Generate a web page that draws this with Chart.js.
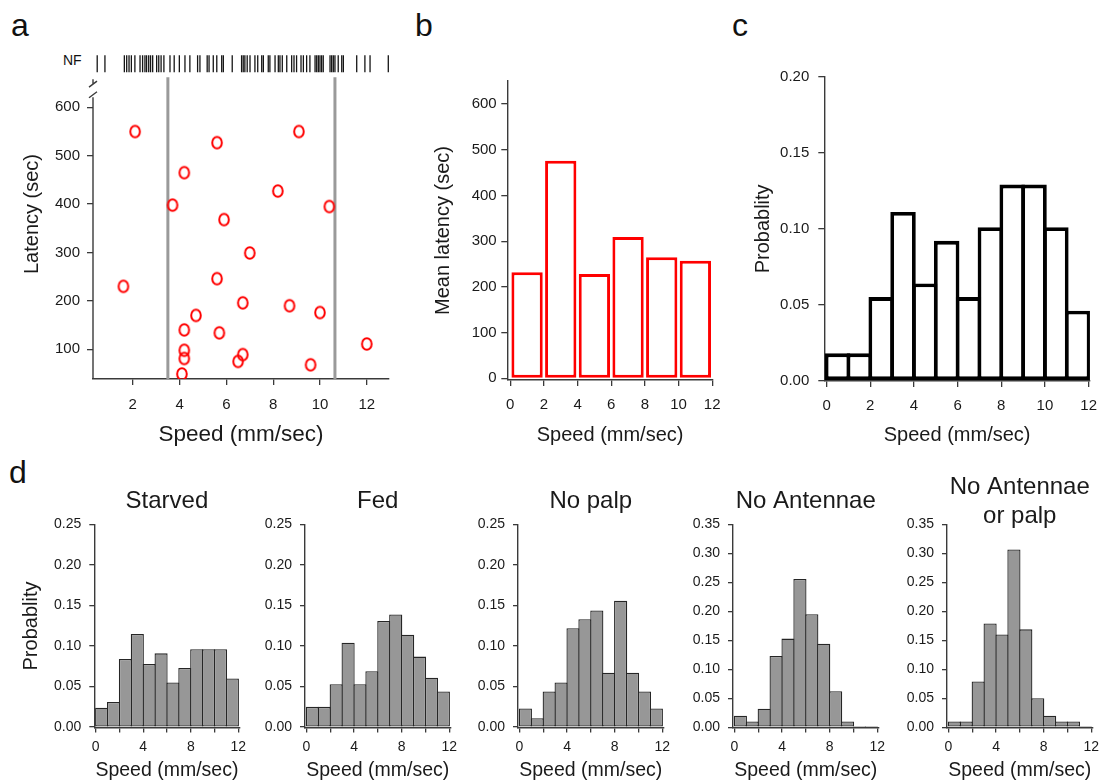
<!DOCTYPE html>
<html>
<head>
<meta charset="utf-8">
<script src="https://cdn.jsdelivr.net/npm/chart.js@4.4.1/dist/chart.umd.min.js"></script>
<style>
  body { margin: 0; background: #fff; }
  #fig { position: relative; width: 1107px; height: 782px; overflow: hidden;
         font-family: 'Liberation Sans', Arial, sans-serif; color: #111; }
  #fig canvas { position: absolute; }
  .lbl { position: absolute; font-size: 32px; line-height: 1; }
  .nf { position: absolute; font-size: 14px; line-height: 1; }
</style>
</head>
<body>
<div id="fig">
  <div class="lbl" style="left:11px;top:9px">a</div>
  <div class="lbl" style="left:415px;top:9px">b</div>
  <div class="lbl" style="left:732px;top:9px">c</div>
  <div class="lbl" style="left:9px;top:456px">d</div>
  <div class="nf" style="left:63px;top:53px">NF</div>
  <canvas id="cA" width="400" height="450" style="left:0;top:0"></canvas>
  <canvas id="cB" width="330" height="450" style="left:400px;top:0"></canvas>
  <canvas id="cC" width="377" height="450" style="left:730px;top:0"></canvas>
  <canvas id="d0" width="252" height="312" style="left:0;top:470px"></canvas>
  <canvas id="d1" width="252" height="312" style="left:211px;top:470px"></canvas>
  <canvas id="d2" width="252" height="312" style="left:424px;top:470px"></canvas>
  <canvas id="d3" width="252" height="312" style="left:639px;top:470px"></canvas>
  <canvas id="d4" width="252" height="312" style="left:853px;top:470px"></canvas>
</div>
<script>
// ---- data ----
// panel a: individual flies (speed vs latency)
const speedA   = [2.1, 1.6, 5.6, 4.2, 3.7, 5.9, 7.0, 5.6, 6.7, 4.7, 4.2, 5.7, 4.2, 4.2, 4.1, 6.5, 6.7, 8.2, 9.1, 10.4, 8.7, 10.0, 12.0, 9.6];
const latencyA = [550, 230, 527, 465, 398, 368, 299, 246, 196, 170, 140, 134, 98, 81, 49, 75, 89, 427, 550, 395, 190, 176, 111, 68];
const boundsA  = [3.5, 10.64];
// flies that never fed (NF): speeds only
const nfSpeeds = [0.48, 0.81, 1.64, 1.74, 1.84, 1.94, 2.09, 2.31, 2.42, 2.52, 2.59, 2.68, 2.76, 2.85,
  3.02, 3.11, 3.21, 3.33, 3.59, 3.77, 3.99, 4.23, 4.44, 4.77, 4.87, 5.18, 5.26, 5.44, 5.59, 5.80, 5.87,
  6.25, 6.65, 6.72, 6.79, 6.89, 7.01, 7.22, 7.34, 7.51, 7.58, 7.79, 7.86, 8.08, 8.22, 8.29, 8.39, 8.58,
  8.79, 8.89, 9.00, 9.19, 9.29, 9.43, 9.57, 9.79, 9.86, 9.93, 10.00, 10.07, 10.14, 10.43, 10.50, 10.57,
  10.64, 10.78, 10.93, 11.00, 11.57, 11.92, 12.14, 12.92];
const nfRow = 690;
const ticksAX = [2, 4, 6, 8, 10, 12];
const ticksAY = [100, 200, 300, 400, 500, 600];

// panel b: mean latency per 2 mm/sec bin
const binsB = [1, 3, 5, 7, 9, 11];
const meanLatencyB = [232, 476, 228, 309, 265, 257];
const ticksBX = [0, 2, 4, 6, 8, 10, 12];
const ticksBY = [0, 100, 200, 300, 400, 500, 600];

// panel c: speed histogram, 1 mm/sec bins
const bins1 = [0.5, 1.5, 2.5, 3.5, 4.5, 5.5, 6.5, 7.5, 8.5, 9.5, 10.5, 11.5];
const probC = [0.018, 0.018, 0.055, 0.111, 0.064, 0.092, 0.055, 0.101, 0.129, 0.129, 0.101, 0.046];
const ticksCY = [0, 0.05, 0.10, 0.15, 0.20];

// panel d: conditions
const starved   = [0.024, 0.031, 0.084, 0.115, 0.078, 0.091, 0.055, 0.073, 0.096, 0.096, 0.096, 0.060];
const fed       = [0.025, 0.025, 0.053, 0.104, 0.053, 0.069, 0.131, 0.139, 0.114, 0.087, 0.061, 0.044];
const noPalp    = [0.023, 0.011, 0.044, 0.055, 0.122, 0.133, 0.144, 0.067, 0.156, 0.067, 0.044, 0.023];
const noAnt     = [0.020, 0.010, 0.032, 0.123, 0.153, 0.256, 0.195, 0.144, 0.062, 0.010, 0.002, 0.002];
const noAntPalp = [0.010, 0.010, 0.079, 0.179, 0.160, 0.307, 0.169, 0.050, 0.020, 0.010, 0.010, 0.002];
const ticksDX = [0, 2, 4, 6, 8, 10, 12];
const labelsDX = [0, 4, 8, 12];
const ticksD25 = [0, 0.05, 0.10, 0.15, 0.20, 0.25];
const ticksD35 = [0, 0.05, 0.10, 0.15, 0.20, 0.25, 0.30, 0.35];

// ---- style ----
const AXIS = '#3a3a3a';
const TXT = '#1a1a1a';
Chart.defaults.font.family = "'Liberation Sans', Arial, sans-serif";
Chart.defaults.color = TXT;

function axis(o) {
  return {
    type: 'linear', position: o.pos, min: o.min, max: o.max, offset: false,
    afterBuildTicks: s => { s.ticks = o.ticks.map(v => ({ value: v })); },
    afterFit: s => { if (o.pos === 'left') s.width = o.size; else s.height = o.size; },
    grid: { offset: false, drawOnChartArea: false, drawTicks: true, tickLength: o.tl, color: AXIS, lineWidth: 1.3 },
    border: { display: o.border !== false, color: AXIS, width: 1.4 },
    ticks: { padding: o.pad, font: { size: o.fs }, color: TXT, autoSkip: false, maxRotation: 0,
             callback: o.fmt || (v => v) },
    title: o.title ? { display: true, text: o.title, color: TXT, font: { size: o.tfs }, padding: o.tpad }
                   : { display: false }
  };
}

function base(pad) {
  return {
    responsive: false, animation: false, events: [],
    layout: { autoPadding: false, padding: pad },
    plugins: { legend: { display: false }, tooltip: { enabled: false } }
  };
}

// ---- panel a ----
function ring() {
  const c = document.createElement('canvas');
  c.width = 16; c.height = 18;
  const g = c.getContext('2d');
  g.strokeStyle = '#ff0000'; g.lineWidth = 2;
  g.beginPath(); g.ellipse(8, 9, 4.8, 5.8, 0, 0, Math.PI * 2); g.stroke();
  return c;
}

const yMinA = 38.6, yTopA = 662, axisTopA = 621;
const breakA = [648, 626];

const brokenAxis = {
  id: 'brokenAxis',
  afterDraw(chart) {
    const { ctx, chartArea, scales: { y } } = chart;
    const x = chartArea.left;
    ctx.save();
    ctx.strokeStyle = AXIS; ctx.lineWidth = 1.4;
    ctx.beginPath();
    ctx.moveTo(x, y.getPixelForValue(axisTopA)); ctx.lineTo(x, chartArea.bottom);
    ctx.moveTo(x, y.getPixelForValue(658)); ctx.lineTo(x, y.getPixelForValue(breakA[0]));
    breakA.forEach(v => {
      const p = y.getPixelForValue(v);
      ctx.moveTo(x - 4, p + 3); ctx.lineTo(x + 4, p - 3);
    });
    ctx.stroke();
    ctx.restore();
  }
};

const optA = base({ left: 0, top: 49, right: 11, bottom: 0 });
optA.scales = {
  x: axis({ pos: 'bottom', min: 0.3, max: 12.95, ticks: ticksAX, size: 71, tl: 6, pad: 10.5, fs: 15,
            title: 'Speed (mm/sec)', tfs: 22.5, tpad: { top: 0, bottom: 1.5 } }),
  y: axis({ pos: 'left', min: yMinA, max: 720.5, ticks: ticksAY, size: 93, tl: 6, pad: 7, fs: 15, border: false,
            title: 'Latency (sec)', tfs: 20, tpad: { top: 20, bottom: 0 } })
};
new Chart(document.getElementById('cA'), {
  type: 'scatter',
  data: {
    datasets: [
      { data: speedA.map((x, i) => ({ x, y: latencyA[i] })), pointStyle: ring(), pointRadius: 6 },
      { data: nfSpeeds.map(x => ({ x, y: nfRow })), pointStyle: 'line', rotation: 90, pointRadius: 8.5,
        borderColor: '#151515', borderWidth: 1.3 },
      ...boundsA.map(b => ({ type: 'line', data: [{ x: b, y: yMinA }, { x: b, y: yTopA }],
        borderColor: '#9a9a9a', borderWidth: 3, pointRadius: 0 }))
    ]
  },
  options: optA,
  plugins: [brokenAxis]
});

// ---- panel b ----
const optB = base({ left: 0, top: 81, right: 13.3, bottom: 0 });
optB.scales = {
  x: axis({ pos: 'bottom', min: -0.175, max: 12.04, ticks: ticksBX, size: 70, tl: 6, pad: 9.4, fs: 15,
            title: 'Speed (mm/sec)', tfs: 20, tpad: { top: 0, bottom: 3 } }),
  y: axis({ pos: 'left', min: -3.7, max: 650.3, ticks: ticksBY, size: 107.3, tl: 6, pad: 4.6, fs: 15,
            title: 'Mean latency (sec)', tfs: 20, tpad: { top: 31, bottom: 0 } })
};
new Chart(document.getElementById('cB'), {
  type: 'bar',
  data: {
    datasets: [{
      data: binsB.map((x, i) => ({ x, y: meanLatencyB[i] })),
      backgroundColor: '#ffffff', borderColor: '#ff0000', borderWidth: 3, borderSkipped: false,
      barPercentage: 0.93, categoryPercentage: 1
    }]
  },
  options: optB
});

// ---- panel c ----
const optC = base({ left: 0, top: 76.7, right: 6.3, bottom: 0 });
optC.scales = {
  x: axis({ pos: 'bottom', min: -0.106, max: 12.06, ticks: ticksBX, size: 69, tl: 6, pad: 10, fs: 15,
            title: 'Speed (mm/sec)', tfs: 20, tpad: { top: 0, bottom: 3 } }),
  y: axis({ pos: 'left', min: -0.0002, max: 0.2, ticks: ticksCY, size: 94.3, tl: 6, pad: 9, fs: 15,
            fmt: v => v.toFixed(2), title: 'Probablity', tfs: 20, tpad: { top: 21.3, bottom: 0 } })
};
new Chart(document.getElementById('cC'), {
  type: 'bar',
  data: {
    datasets: [{
      data: bins1.map((x, i) => ({ x, y: probC[i] })),
      backgroundColor: '#ffffff', borderColor: '#000000', borderWidth: 3.8, borderSkipped: false,
      barPercentage: 1.167, categoryPercentage: 1
    }]
  },
  options: optC
});

// ---- panel d ----
function hist(id, title, probs, yMax, ticksY, yTitle) {
  const twoLines = Array.isArray(title);
  const opt = base({ left: 0, top: 0, right: 6, bottom: 0 });
  opt.plugins.title = {
    display: true, text: title, fullSize: false, color: TXT,
    font: { size: 24, weight: 'normal', lineHeight: 1.2 },
    padding: twoLines ? { top: 3, bottom: -6.1 } : { top: 16.6, bottom: 9.1 }
  };
  opt.scales = {
    x: axis({ pos: 'bottom', min: -0.12, max: 12.1, ticks: ticksDX, size: 54.5, tl: 5, pad: 5.8, fs: 14,
              fmt: v => (labelsDX.includes(v) ? v : ''),
              title: 'Speed (mm/sec)', tfs: 19.5, tpad: { top: 0, bottom: 0 } }),
    y: axis({ pos: 'left', min: -0.0005, max: yMax, ticks: ticksY, size: id === 'd0' ? 94.3 : 94, tl: 5, pad: 8, fs: 14,
              fmt: v => v.toFixed(2),
              title: yTitle, tfs: 20, tpad: { top: 19.7, bottom: 0 } })
  };
  new Chart(document.getElementById(id), {
    type: 'bar',
    data: {
      datasets: [{
        data: bins1.map((x, i) => ({ x, y: probs[i] })),
        backgroundColor: '#979797', borderColor: '#262626', borderWidth: 1.3, borderSkipped: false,
        barPercentage: 1.105, categoryPercentage: 1
      }]
    },
    options: opt
  });
}

hist('d0', 'Starved', starved, 0.25, ticksD25, 'Probablity');
hist('d1', 'Fed', fed, 0.25, ticksD25, null);
hist('d2', 'No palp', noPalp, 0.25, ticksD25, null);
hist('d3', 'No Antennae', noAnt, 0.35, ticksD35, null);
hist('d4', ['No Antennae', 'or palp'], noAntPalp, 0.35, ticksD35, null);
</script>
</body>
</html>
